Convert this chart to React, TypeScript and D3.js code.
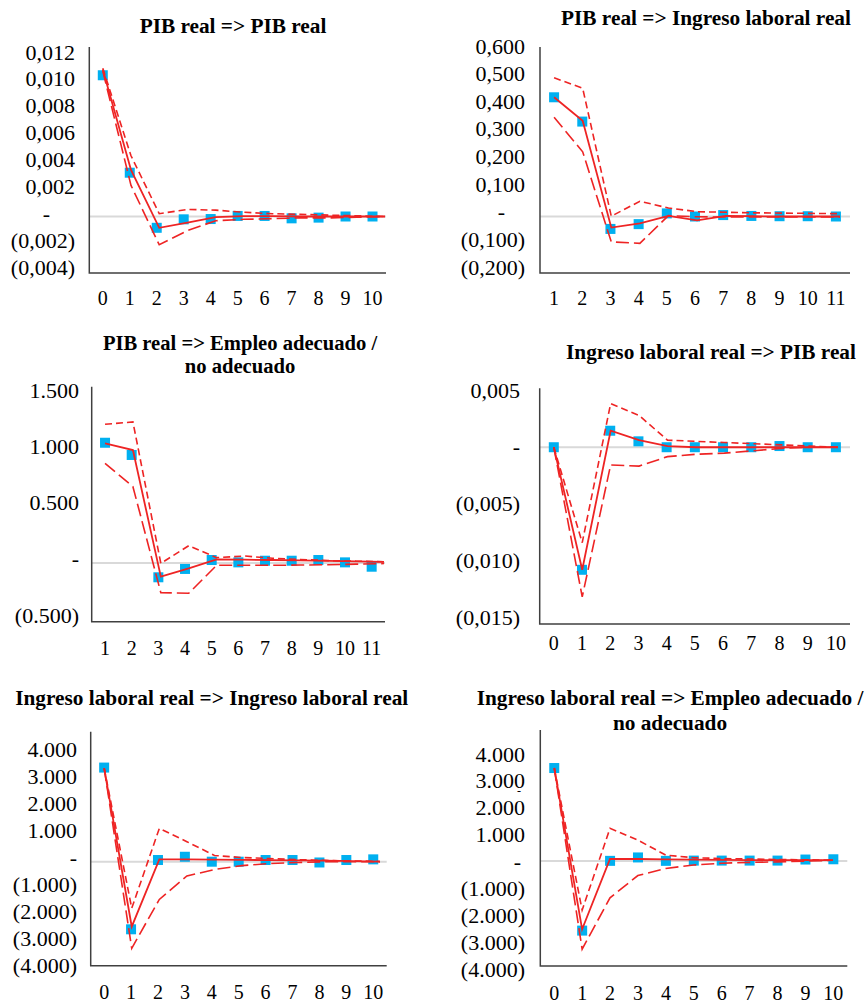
import React from "react";
import * as d3 from "d3";

// categories on the x axis
const lags0to10 = ["0", "1", "2", "3", "4", "5", "6", "7", "8", "9", "10"];
const lags1to11 = ["1", "2", "3", "4", "5", "6", "7", "8", "9", "10", "11"];

// PIB real => PIB real
const pibPibTicks = [-0.004, -0.002, 0, 0.002, 0.004, 0.006, 0.008, 0.01, 0.012];
const pibPibTickLabels = ["(0,004)", "(0,002)", "-", "0,002", "0,004", "0,006", "0,008", "0,010", "0,012"];
const pibPibPoints = [0.01, 0.0031, -0.0008, -0.0002, -0.00018, 0.00004, 0.00004, -0.00013, -0.00008, 0, 0];
const pibPibIrf = [0.0104, 0.0033, -0.0008, -0.00044, -0.00005, 0.00002, 0.00002, 0, 0, 0, 0];
const pibPibUpper = [0.0105, 0.0043, 0.0002, 0.0005, 0.00045, 0.0003, 0.0002, 0.00015, 0.0001, 0.00005, 0];
const pibPibLower = [0.0103, 0.0022, -0.002, -0.001, -0.0003, -0.0002, -0.00015, -0.0001, -0.0001, -0.00005, 0];

// PIB real => Ingreso laboral real
const pibIngTicks = [-0.2, -0.1, 0, 0.1, 0.2, 0.3, 0.4, 0.5, 0.6];
const pibIngTickLabels = ["(0,200)", "(0,100)", "-", "0,100", "0,200", "0,300", "0,400", "0,500", "0,600"];
const pibIngPoints = [0.422, 0.336, -0.044, -0.027, 0.011, 0, 0.005, 0.002, 0.001, 0.001, 0];
const pibIngIrf = [0.422, 0.339, -0.039, -0.024, 0.002, -0.014, 0.002, 0.001, 0, 0, 0];
const pibIngUpper = [0.491, 0.454, 0.001, 0.054, 0.03, 0.017, 0.015, 0.013, 0.012, 0.011, 0.01];
const pibIngLower = [0.351, 0.229, -0.09, -0.095, 0.003, -0.001, -0.002, -0.002, -0.002, -0.002, -0.002];

// PIB real => Empleo adecuado / no adecuado
const pibEmpTicks = [-0.5, 0, 0.5, 1, 1.5];
const pibEmpTickLabels = ["(0.500)", "-", "0.500", "1.000", "1.500"];
const pibEmpPoints = [1.023, 0.919, -0.122, -0.051, 0.025, 0.005, 0.019, 0.019, 0.025, 0.005, -0.032];
const pibEmpIrf = [1.018, 0.961, -0.117, -0.046, 0.031, 0.028, 0.025, 0.022, 0.018, 0.014, 0.01];
const pibEmpUpper = [1.18, 1.2, -0.003, 0.147, 0.045, 0.059, 0.04, 0.03, 0.02, 0.015, 0.01];
const pibEmpLower = [0.848, 0.649, -0.253, -0.258, -0.02, -0.02, -0.02, -0.018, -0.015, -0.01, -0.005];

// Ingreso laboral real => PIB real
const ingPibTicks = [-0.015, -0.01, -0.005, 0, 0.005];
const ingPibTickLabels = ["(0,015)", "(0,010)", "(0,005)", "-", "0,005"];
const ingPibPoints = [0, -0.0104, 0.0014, 0.0005, 0, 0, 0, 0, 0.0001, 0, 0];
const ingPibIrf = [0, -0.0104, 0.0014, 0.0006, 0.0001, 0, 0, 0, 0, 0, 0];
const ingPibUpper = [0, -0.0081, 0.0037, 0.0027, 0.0006, 0.0005, 0.0004, 0.0003, 0.0002, 0.0001, 0];
const ingPibLower = [0, -0.0127, -0.0015, -0.0016, -0.0008, -0.0006, -0.0005, -0.0003, -0.0001, 0, 0];

// Ingreso laboral real => Ingreso laboral real
const ingIngTicks = [-4, -3, -2, -1, 0, 1, 2, 3, 4];
const ingIngTickLabels = ["(4.000)", "(3.000)", "(2.000)", "(1.000)", "-", "1.000", "2.000", "3.000", "4.000"];
const ingIngPoints = [3.62, -2.6, 0.065, 0.19, 0, 0, 0.065, 0.065, -0.03, 0.065, 0.09];
const ingIngIrf = [3.6, -2.5, 0.09, 0.09, 0.08, 0.07, 0.06, 0.05, 0.04, 0.02, 0];
const ingIngUpper = [3.6, -1.79, 1.28, 0.77, 0.24, 0.16, 0.12, 0.08, 0.05, 0.03, 0.01];
const ingIngLower = [3.6, -3.33, -1.45, -0.55, -0.3, -0.15, -0.07, -0.03, 0, 0, 0];

// Ingreso laboral real => Empleo adecuado / no adecuado
const ingEmpTicks = [-4, -3, -2, -1, 0, 1, 2, 3, 4];
const ingEmpTickLabels = ["(4.000)", "(3.000)", "(2.000)", "(1.000)", "-", "1.000", "2.000", "3.000", "4.000"];
const ingEmpPoints = [3.55, -2.65, 0.01, 0.14, 0.01, 0.02, 0.02, 0.02, 0.02, 0.06, 0.07];
const ingEmpIrf = [3.55, -2.6, 0.08, 0.08, 0.07, 0.06, 0.05, 0.04, 0.04, 0.04, 0.04];
const ingEmpUpper = [3.55, -1.87, 1.25, 0.8, 0.23, 0.13, 0.1, 0.08, 0.06, 0.05, 0.04];
const ingEmpLower = [3.55, -3.36, -1.4, -0.55, -0.28, -0.15, -0.08, -0.05, -0.03, 0, 0.03];

const RED = "#ee2424";
const BLUE = "#00b0f0";
const FONT = '"Liberation Serif", "Times New Roman", serif';

const panels = [
  {
    title: ["PIB real => PIB real"], titleX: 233, titleY: [26], titleSize: 21.3,
    cats: lags0to10, ticks: pibPibTicks, tickLabels: pibPibTickLabels, domain: [-0.004, 0.012],
    points: pibPibPoints, irf: pibPibIrf, upper: pibPibUpper, lower: pibPibLower,
    x0: 89.3, x1: 386, top: 47, bottom: 273, labelRange: [267, 52], labelX: 75, zeroDx: -25,
    xLabelY: 298, lineEnd: 385,
  },
  {
    title: ["PIB real => Ingreso laboral real"], titleX: 706, titleY: [17.5], titleSize: 21.3,
    cats: lags1to11, ticks: pibIngTicks, tickLabels: pibIngTickLabels, domain: [-0.2, 0.6],
    points: pibIngPoints, irf: pibIngIrf, upper: pibIngUpper, lower: pibIngLower,
    x0: 540, x1: 850, top: 47, bottom: 273, labelRange: [267, 46], labelX: 525, zeroDx: -20,
    xLabelY: 298, lineEnd: 840,
  },
  {
    title: ["PIB real => Empleo adecuado /", "no adecuado"], titleX: 240, titleY: [343, 366], titleSize: 20.6,
    cats: lags1to11, ticks: pibEmpTicks, tickLabels: pibEmpTickLabels, domain: [-0.5, 1.5],
    points: pibEmpPoints, irf: pibEmpIrf, upper: pibEmpUpper, lower: pibEmpLower,
    x0: 91.7, x1: 385, top: 386.7, bottom: 621.7, labelRange: [615, 390], labelX: 79, zeroDx: 0,
    xLabelY: 648, lineEnd: 384,
  },
  {
    title: ["Ingreso laboral real => PIB real"], titleX: 711, titleY: [351.7], titleSize: 21.3,
    cats: lags0to10, ticks: ingPibTicks, tickLabels: ingPibTickLabels, domain: [-0.015, 0.005],
    points: ingPibPoints, irf: ingPibIrf, upper: ingPibUpper, lower: ingPibLower,
    x0: 539.7, x1: 850, top: 388.3, bottom: 624, labelRange: [617.7, 390], labelX: 520, zeroDx: 0,
    xLabelY: 643.3, lineEnd: 838,
  },
  {
    title: ["Ingreso laboral real => Ingreso laboral real"], titleX: 211.7, titleY: [698.3], titleSize: 21.3,
    cats: lags0to10, ticks: ingIngTicks, tickLabels: ingIngTickLabels, domain: [-4, 5],
    points: ingIngPoints, irf: ingIngIrf, upper: ingIngUpper, lower: ingIngLower,
    x0: 90.7, x1: 386.7, top: 731.7, bottom: 965.7, labelRange: [965, 749.3], labelX: 77, zeroDx: 0,
    xLabelY: 991.7, lineEnd: 380,
  },
  {
    title: ["Ingreso laboral real => Empleo adecuado /", "no adecuado"], titleX: 670, titleY: [698.3, 722.7], titleSize: 21.3,
    cats: lags0to10, ticks: ingEmpTicks, tickLabels: ingEmpTickLabels, domain: [-4, 5],
    points: ingEmpPoints, irf: ingEmpIrf, upper: ingEmpUpper, lower: ingEmpLower,
    x0: 540.3, x1: 847.3, top: 730, bottom: 966, labelRange: [969.3, 754], labelX: 525, zeroDx: -4,
    xLabelY: 993.3, lineEnd: 833, strayDash: 3,
  },
];

function Panel({ p }: { p: any }) {
  const x = d3.scaleBand().domain(p.cats).range([p.x0, p.x1]);
  const bw = x.bandwidth();
  const first = (x(p.cats[0]) as number) + bw / 2;
  const lx = d3.scalePoint().domain(p.cats).range([first, p.lineEnd]);
  const y = d3.scaleLinear().domain(p.domain).range([p.bottom, p.top]);
  // tick labels sit a little tighter than the plotting scale in the source
  const ly = d3
    .scaleLinear()
    .domain([p.ticks[0], p.ticks[p.ticks.length - 1]])
    .range(p.labelRange);

  const line = d3
    .line<number>()
    .x((d, i) => lx(p.cats[i]) as number)
    .y((d) => y(d));

  const txt = { fontFamily: FONT, fontSize: 20 };

  return (
    <g>
      {p.title.map((t: string, i: number) => (
        <text key={t} x={p.titleX} y={p.titleY[i]} textAnchor="middle" dominantBaseline="central"
          style={{ ...txt, fontSize: p.titleSize, fontWeight: "bold" }}>
          {t}
        </text>
      ))}
      {p.ticks.map((t: number, i: number) => (
        <text key={t} x={p.labelX + (t === 0 ? p.zeroDx : 0)} y={ly(t)} textAnchor="end"
          dominantBaseline="central" style={{ ...txt, fontSize: 22 }}>
          {p.tickLabels[i]}
        </text>
      ))}
      {p.strayDash !== undefined && (
        <text x={p.labelX - 4} y={ly(p.strayDash) + 10} textAnchor="end" dominantBaseline="central"
          style={{ ...txt, fontSize: 12 }}>
          -
        </text>
      )}
      {p.cats.map((c: string) => (
        <text key={c} x={(x(c) as number) + bw / 2} y={p.xLabelY} textAnchor="middle"
          dominantBaseline="central" style={txt}>
          {c}
        </text>
      ))}
      <line x1={p.x0} x2={p.x1} y1={y(0)} y2={y(0)} stroke="#d9d9d9" strokeWidth={2} />
      {p.points.map((v: number, i: number) => (
        <rect key={i} x={(x(p.cats[i]) as number) + bw / 2 - 5} y={y(v) - 5} width={10} height={10} fill={BLUE} />
      ))}
      <path d={line(p.upper) || ""} fill="none" stroke={RED} strokeWidth={1.6} strokeDasharray="7,4" />
      <path d={line(p.lower) || ""} fill="none" stroke={RED} strokeWidth={1.6} strokeDasharray="13,5" />
      <path d={line(p.irf) || ""} fill="none" stroke={RED} strokeWidth={1.8} />
      <path d={`M${p.x0},${p.top}V${p.bottom}H${p.x1}`} fill="none" stroke="#404040" strokeWidth={1.5} />
    </g>
  );
}

export default function App() {
  return (
    <svg width={866} height={1003} style={{ position: "absolute", left: 0, top: 0, background: "#fff" }}>
      {panels.map((p, i) => (
        <Panel key={i} p={p} />
      ))}
    </svg>
  );
}
